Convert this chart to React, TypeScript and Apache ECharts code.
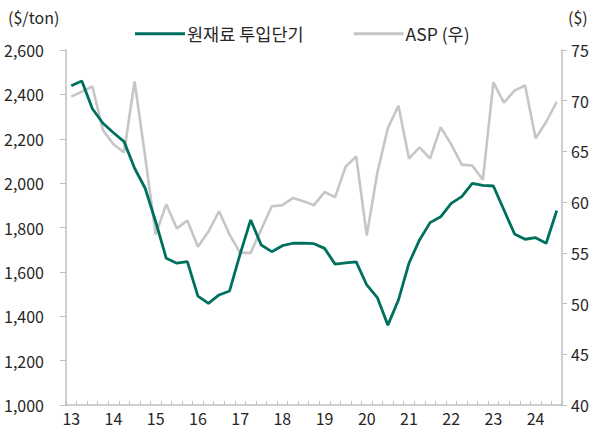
import React, { useEffect, useRef } from "react";
import * as echarts from "echarts";

const years = ["13", "14", "15", "16", "17", "18", "19", "20", "21", "22", "23", "24"];
const quarters = ["1Q", "2Q", "3Q", "4Q"];
const categories: string[] = [];
years.forEach((y) => quarters.forEach((q) => categories.push(`${y}.${q}`)));
const periods = categories.slice(0, 47);

const rawMaterialCost = [
  2439, 2460, 2335, 2270, 2227, 2187, 2067, 1977, 1826, 1661, 1639, 1646,
  1491, 1458, 1496, 1514, 1680, 1834, 1721, 1691, 1718, 1729, 1730, 1727,
  1706, 1635, 1641, 1645, 1541, 1484, 1360, 1473, 1639, 1744, 1822, 1848,
  1909, 1939, 1999, 1990, 1987, 1879, 1771, 1747, 1754, 1729, 1876,
];

const asp = [
  70.4, 70.9, 71.4, 67.1, 65.7, 64.9, 71.9, 64.5, 56.8, 59.8, 57.4, 58.2,
  55.6, 57.1, 59.1, 56.8, 55.0, 55.0, 57.3, 59.6, 59.7, 60.4, 60.1, 59.7,
  61.0, 60.5, 63.5, 64.5, 56.7, 62.9, 67.3, 69.5, 64.3, 65.4, 64.3, 67.4,
  65.7, 63.7, 63.6, 62.2, 71.8, 69.8, 71.0, 71.5, 66.3, 67.9, 69.9,
];

const seriesNames = ["원재료 투입단기", "ASP (우)"];
const leftUnit = "($/ton)";
const rightUnit = "($)";

const FONT = "'Noto Sans CJK KR', 'Noto Sans', sans-serif";
const TEXT = "#262626";
const AXIS = "#bfbfbf";

export default function App() {
  const ref = useRef<HTMLDivElement>(null);
  useEffect(() => {
    if (!ref.current) return;
    const chart = echarts.init(ref.current, undefined, { renderer: "svg" });
    chart.setOption({
      animation: false,
      textStyle: { fontFamily: FONT },
      grid: { left: 66, right: 34, top: 50, bottom: 27, containLabel: false },
      legend: {
        data: [
          { name: seriesNames[0], icon: "rect" },
          { name: seriesNames[1], icon: "rect" },
        ],
        left: 130,
        top: 20,
        itemWidth: 50,
        itemHeight: 3,
        itemGap: 50,
        textStyle: { fontSize: 17.5, color: TEXT, fontFamily: FONT, padding: [0, 0, 0, -3] },
      },
      graphic: [
        {
          type: "text",
          left: 8,
          top: 9,
          style: { text: leftUnit, fontSize: 16, fill: TEXT, fontFamily: FONT },
        },
        {
          type: "text",
          left: 568,
          top: 9,
          style: { text: rightUnit, fontSize: 16, fill: TEXT, fontFamily: FONT },
        },
      ],
      xAxis: {
        type: "category",
        data: periods,
        boundaryGap: true,
        axisLine: { lineStyle: { color: AXIS, width: 1.5 } },
        axisTick: { show: true, inside: true, length: 4, interval: 0, lineStyle: { color: AXIS } },
        axisLabel: {
          interval: (i: number) => i % 4 === 0,
          formatter: (v: string) => v.split(".")[0],
          fontSize: 16,
          color: TEXT,
          margin: 5,
          fontFamily: FONT,
        },
        splitLine: { show: false },
      },
      yAxis: [
        {
          type: "value",
          min: 1000,
          max: 2600,
          interval: 200,
          position: "left",
          axisLine: { show: true, lineStyle: { color: AXIS, width: 1.5 } },
          axisTick: { show: true, length: 6, lineStyle: { color: AXIS } },
          axisLabel: {
            fontSize: 16,
            color: TEXT,
            margin: 22,
            fontFamily: FONT,
            formatter: (v: number) => v.toLocaleString("en-US"),
          },
          splitLine: { show: false },
        },
        {
          type: "value",
          min: 40,
          max: 75,
          interval: 5,
          position: "right",
          axisLine: { show: true, lineStyle: { color: AXIS, width: 1.5 } },
          axisTick: { show: true, length: 5, lineStyle: { color: AXIS } },
          axisLabel: { fontSize: 16, color: TEXT, margin: 9, fontFamily: FONT },
          splitLine: { show: false },
        },
      ],
      series: [
        {
          name: seriesNames[1],
          type: "line",
          yAxisIndex: 1,
          data: asp,
          symbol: "none",
          lineStyle: { color: "#c6c6c6", width: 2.6 },
          itemStyle: { color: "#c6c6c6" },
          z: 2,
        },
        {
          name: seriesNames[0],
          type: "line",
          yAxisIndex: 0,
          data: rawMaterialCost,
          symbol: "none",
          lineStyle: { color: "#00705e", width: 2.8 },
          itemStyle: { color: "#00705e" },
          z: 3,
        },
      ],
    });
    return () => chart.dispose();
  }, []);
  return (
    <div
      ref={ref}
      style={{ position: "fixed", left: 0, top: 0, width: 596, height: 432, background: "#fff" }}
    />
  );
}
